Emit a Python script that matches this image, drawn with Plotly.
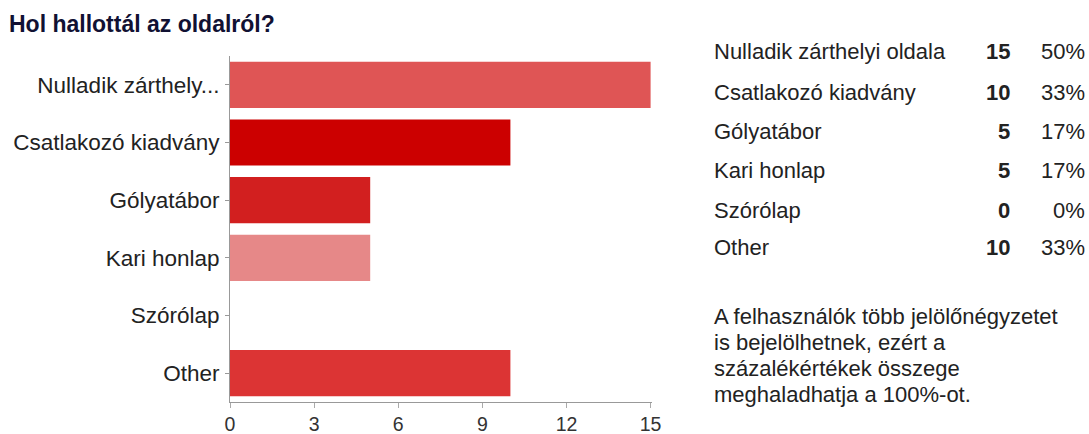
import plotly.graph_objects as go

# Survey: where respondents heard about the site
categories = ["Nulladik zárthely...", "Csatlakozó kiadvány", "Gólyatábor",
              "Kari honlap", "Szórólap", "Other"]
full_names = ["Nulladik zárthelyi oldala", "Csatlakozó kiadvány", "Gólyatábor",
              "Kari honlap", "Szórólap", "Other"]
counts = [15, 10, 5, 5, 0, 10]
percents = ["50%", "33%", "17%", "17%", "0%", "33%"]
bar_colors = ["#df5555", "#cc0000", "#d21f1f", "#e68888", "#d96a6a", "#dc3434"]
x_ticks = [0, 3, 6, 9, 12, 15]

FONT = "Liberation Sans, Arial, sans-serif"

fig = go.Figure(go.Bar(
    y=categories, x=counts, orientation="h",
    marker=dict(color=bar_colors, line=dict(width=0)),
    width=0.8, hoverinfo="x+y",
))

fig.update_layout(
    width=1089, height=434,
    margin=dict(l=230, r=437, t=56, b=32),
    paper_bgcolor="white", plot_bgcolor="white",
    showlegend=False,
    font=dict(family=FONT, size=22, color="#222222"),
)

fig.update_xaxes(
    range=[0, 15.05], tickvals=x_ticks, showgrid=False, zeroline=False,
    showline=True, linecolor="#999999", linewidth=1,
    ticks="outside", ticklen=5, tickcolor="#aaaaaa",
    tickfont=dict(size=19.5, color="#333333"), ticklabelstandoff=0,
    automargin=False,
)
fig.update_yaxes(
    categoryorder="array", categoryarray=categories[::-1],
    showgrid=False, zeroline=False,
    showline=True, linecolor="#999999", linewidth=1,
    ticks="outside", ticklen=4, tickcolor="#999999",
    tickfont=dict(size=22.5, color="#222222"), ticklabelstandoff=1,
    automargin=False,
)

plot_w, plot_h = 422, 346


def px_x(x):
    return (x - 230) / plot_w


def px_y(y):
    return 1 - (y - 56) / plot_h


# Title
fig.add_annotation(text="<b>Hol hallottál az oldalról?</b>", xref="paper", yref="paper",
                   x=px_x(7), y=px_y(24), xanchor="left", yanchor="middle",
                   showarrow=False, font=dict(family=FONT, size=23, color="#111133"))

# Summary table on the right
row_y = [52, 92, 131, 170, 210, 248]
for name, cnt, pct, yy in zip(full_names, counts, percents, row_y):
    fig.add_annotation(text=name, xref="paper", yref="paper", x=px_x(712), y=px_y(yy),
                       xanchor="left", yanchor="middle", showarrow=False,
                       font=dict(family=FONT, size=22, color="#222222"))
    fig.add_annotation(text=f"<b>{cnt}</b>", xref="paper", yref="paper", x=px_x(1012), y=px_y(yy),
                       xanchor="right", yanchor="middle", showarrow=False,
                       font=dict(family=FONT, size=22, color="#222222"))
    fig.add_annotation(text=pct, xref="paper", yref="paper", x=px_x(1087), y=px_y(yy),
                       xanchor="right", yanchor="middle", showarrow=False,
                       font=dict(family=FONT, size=22, color="#222222"))

note_lines = ["A felhasználók több jelölőnégyzetet", "is bejelölhetnek, ezért a",
              "százalékértékek összege", "meghaladhatja a 100%-ot."]
for i, line in enumerate(note_lines):
    fig.add_annotation(text=line, xref="paper", yref="paper", x=px_x(712), y=px_y(316 + i * 26),
                       xanchor="left", yanchor="middle", showarrow=False,
                       font=dict(family=FONT, size=22, color="#222222"))

fig.write_html("out.html")
